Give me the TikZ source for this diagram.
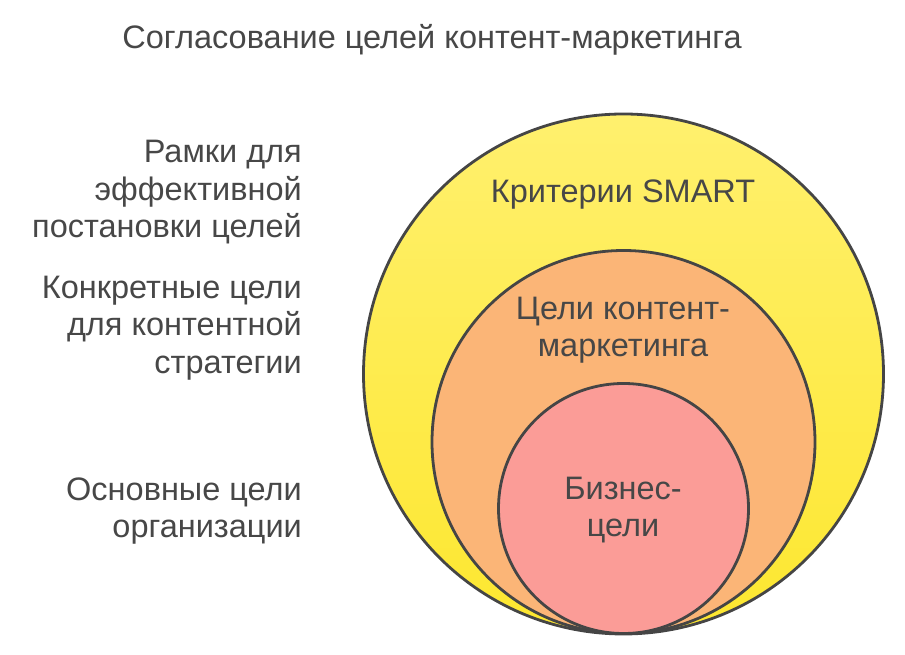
\documentclass[tikz,border=0pt]{standalone}
\usepackage{fontspec}
\setmainfont{Liberation Sans}
\definecolor{txtgray}{HTML}{474747}
\definecolor{ringgray}{HTML}{454545}
\definecolor{smarttop}{HTML}{FFF06E}
\definecolor{smartbot}{HTML}{FDE72F}
\definecolor{contorange}{HTML}{FBB577}
\definecolor{bizpink}{HTML}{FB9C97}
\tikzset{
  lbl/.style={text=txtgray,font=\fontsize{32.5}{37.5}\selectfont,inner sep=0pt},
  ring/.style={draw=ringgray,line width=2.8pt}
}
\begin{document}
\begin{tikzpicture}[x=1pt,y=1pt]
	\useasboundingbox (0,0) rectangle (905,655);
	\node[lbl] (title) at (432,615) {Согласование целей контент-маркетинга};
	% circles
	\draw[ring,top color=smarttop,bottom color=smartbot] (623.5,281) circle (260);
	\draw[ring,fill=contorange] (623.5,213) circle (191.5);
	\draw[ring,fill=bizpink] (623.5,146.5) circle (125);
	\node[lbl] (smart) at (623,460) {Критерии SMART};
	\node[lbl,align=center] (cmgoals) at (623,325) {Цели контент-\\маркетинга};
	\node[lbl,align=center] (bizgoals) at (623,145) {Бизнес-\\цели};
	% left labels
	\node[lbl,align=right,anchor=east] (smartdesc) at (302,462.5) {Рамки для\\эффективной\\постановки целей};
	\node[lbl,align=right,anchor=east] (cmdesc) at (302,327) {Конкретные цели\\для контентной\\стратегии};
	\node[lbl,align=right,anchor=east] (bizdesc) at (302,144) {Основные цели\\организации};
\end{tikzpicture}
\end{document}
